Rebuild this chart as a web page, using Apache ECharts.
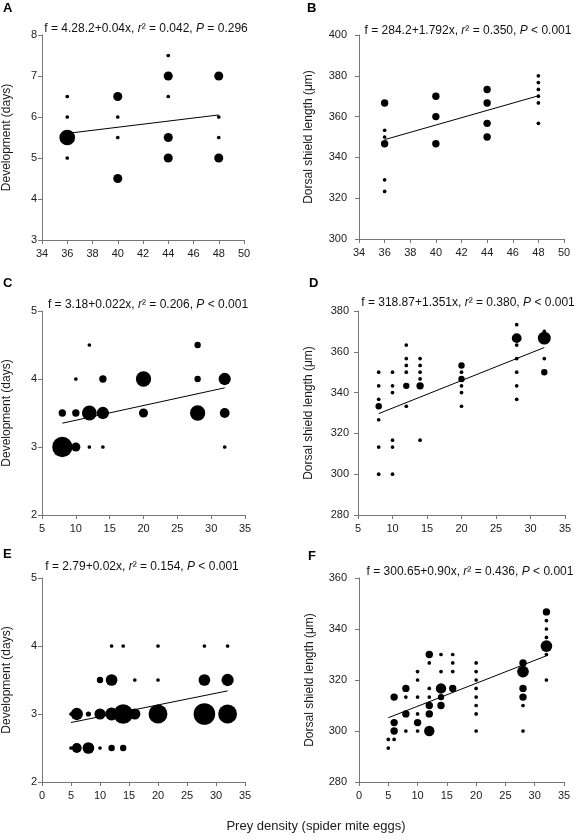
<!DOCTYPE html>
<html><head><meta charset="utf-8">
<script src="https://cdn.jsdelivr.net/npm/echarts@6/dist/echarts.min.js"></script>
<style>html,body{margin:0;padding:0;background:#fff}#c{width:576px;height:839px}</style>
</head><body><div id="c"></div>
<script>
// ---- data: [x, y, n (number of observations at that point)] ----
const pointsA = [
  [36,6.5,1],[36,6,1],[36,5.5,18],[36,5,1],
  [40,6.5,6],[40,6,1],[40,5.5,1],[40,4.5,6],
  [44,7.5,1],[44,7,6],[44,6.5,1],[44,5.5,6],[44,5,6],
  [48,7,6],[48,6,1],[48,5.5,1],[48,5,6]
];
const pointsB = [
  [36,366.7,4],[36,353.3,1],[36,350,1],[36,346.7,4],[36,329,1],[36,323.3,1],
  [40,370,4],[40,360,4],[40,346.7,4],
  [44,373.3,4],[44,366.7,4],[44,356.7,4],[44,350,4],
  [48,380,1],[48,376.7,1],[48,373.3,1],[48,370,1],[48,366.7,1],[48,356.7,1]
];
const pointsC = [
  [12,4.5,1],[28,4.5,3],
  [10,4,1],[14,4,4],[20,4,17],[28,4,3],[32,4,11],
  [8,3.5,4],[10,3.5,4],[12,3.5,16],[14,3.5,11],[20,3.5,6],[28,3.5,17],[32,3.5,7],
  [8,3,30],[10,3,6],[12,3,1],[14,3,1],[32,3,1]
];
const pointsD = [
  [8,350,1],[8,343.3,1],[8,336.7,1],[8,333.3,3],[8,326.7,1],[8,313.3,1],[8,300,1],
  [10,350,1],[10,343.3,1],[10,340,1],[10,316.7,1],[10,313.3,1],[10,300,1],
  [12,363.3,1],[12,356.7,1],[12,353.3,1],[12,350,1],[12,343.3,3],[12,333.3,1],
  [14,356.7,1],[14,353.3,1],[14,350,1],[14,346.7,1],[14,343.3,4],[14,316.7,1],
  [20,353.3,3],[20,350,1],[20,346.7,3],[20,343.3,1],[20,340,1],[20,333.3,1],
  [28,373.3,1],[28,366.7,7],[28,363.3,1],[28,356.7,1],[28,350,1],[28,343.3,1],[28,336.7,1],
  [32,370,1],[32,366.7,12],[32,356.7,1],[32,350,3]
];
const pointsE = [
  [12,4,1],[14,4,1],[20,4,1],[28,4,1],[32,4,1],
  [10,3.5,3],[12,3.5,10],[16,3.5,1],[20,3.5,1],[28,3.5,10],[32,3.5,11],
  [5,3,1],[6,3,11],[8,3,2],[10,3,9],[12,3,12],[14,3,28],[16,3,9],[20,3,26],[28,3,34],[32,3,26],
  [5,2.5,1],[6,2.5,7],[8,2.5,10],[10,2.5,1],[12,2.5,3],[14,2.5,3]
];
const pointsF = [
  [5,296.7,1],[5,293.3,1],
  [6,313.3,4],[6,303.3,4],[6,300,4],[6,296.7,1],
  [8,316.7,4],[8,313.3,1],[8,306.7,4],[8,300,1],
  [10,323.3,1],[10,320,1],[10,313.3,1],[10,306.7,1],[10,303.3,4],[10,300,1],
  [12,330,4],[12,326.7,1],[12,316.7,1],[12,313.3,1],[12,310,4],[12,306.7,4],[12,300,8],
  [14,330,1],[14,323.3,1],[14,316.7,8],[14,313.3,3],[14,310,4],
  [16,330,1],[16,326.7,1],[16,323.3,1],[16,316.7,4],
  [20,326.7,1],[20,323.3,1],[20,320,1],[20,316.7,1],[20,313.3,1],[20,310,1],[20,306.7,1],[20,300,1],
  [28,326.7,4],[28,323.3,10],[28,316.7,4],[28,313.3,4],[28,310,1],[28,300,1],
  [32,346.7,4],[32,343.3,1],[32,340,1],[32,336.7,1],[32,333.3,10],[32,330,1],[32,320,1]
];
// regression lines (end points)
const lineA = [[36,5.6],[48,6.05]];
const lineB = [[36,348.7],[48,370.2]];
const lineC = [[8,3.35],[32,3.87]];
const lineD = [[8,329.7],[32,362.1]];
const lineE = [[5,2.875],[32,3.34]];
const lineF = [[5,305.2],[32,329.5]];
// regression texts: [equation, r², P part]
const eqA = ['f = 4.28.2+0.04x', '0.042', '= 0.296'];
const eqB = ['f = 284.2+1.792x', '0.350', '< 0.001'];
const eqC = ['f = 3.18+0.022x', '0.206', '< 0.001'];
const eqD = ['f = 318.87+1.351x', '0.380', '< 0.001'];
const eqE = ['f = 2.79+0.02x', '0.154', '< 0.001'];
const eqF = ['f = 300.65+0.90x', '0.436', '< 0.001'];
// axes: [min, max, interval]
const xAxisAB = [34, 50, 2];
const xAxisCD = [5, 35, 5];
const xAxisEF = [0, 35, 5];
const yAxisA = [3, 8, 1];
const yAxisB = [300, 400, 20];
const yAxisC = [2, 5, 1];
const yAxisD = [280, 380, 20];
const yAxisE = [2, 5, 1];
const yAxisF = [280, 360, 20];
const nameDev = 'Development (days)';
const nameDorsal = 'Dorsal shield length (μm)';
const xTitle = 'Prey density (spider mite eggs)';
const letters = ['A','B','C','D','E','F'];

// ---- layout ----
const FONT = "'Liberation Sans', Arial, sans-serif";
const panels = [
  {pts:pointsA, line:lineA, eq:eqA, x:xAxisAB, y:yAxisA, name:nameDev,
   grid:{left:40,top:35,width:204,height:205}, gap:29, lm:5, tp:[146,29], lp:[3,2]},
  {pts:pointsB, line:lineB, eq:eqB, x:xAxisAB, y:yAxisB, name:nameDorsal,
   grid:{left:359,top:35,width:205,height:204}, gap:44, lm:12, tp:[468,31], lp:[307,2]},
  {pts:pointsC, line:lineC, eq:eqC, x:xAxisCD, y:yAxisC, name:nameDev,
   grid:{left:41,top:311,width:204,height:204}, gap:29, lm:5, tp:[148,305], lp:[3,277]},
  {pts:pointsD, line:lineD, eq:eqD, x:xAxisCD, y:yAxisD, name:nameDorsal,
   grid:{left:358,top:311,width:207,height:204}, gap:43, lm:9, tp:[468,303], lp:[309,277]},
  {pts:pointsE, line:lineE, eq:eqE, x:xAxisEF, y:yAxisE, name:nameDev,
   grid:{left:41,top:578,width:204,height:204}, gap:29, lm:5, tp:[142,567], lp:[3,548]},
  {pts:pointsF, line:lineF, eq:eqF, x:xAxisEF, y:yAxisF, name:nameDorsal,
   grid:{left:359,top:578,width:205,height:204}, gap:43, lm:12, tp:[470,572], lp:[308,550]}
];

const axisCol = '#777';
const textCol = '#1a1a1a';
const grids = [], xAxes = [], yAxes = [], series = [], graphics = [];
panels.forEach((p, i) => {
  grids.push(Object.assign({containLabel:false}, p.grid));
  xAxes.push({type:'value', gridIndex:i, min:p.x[0], max:p.x[1], interval:p.x[2],
    axisLine:{show:true, onZero:false, lineStyle:{color:axisCol, width:1}},
    axisTick:{show:true, length:4, lineStyle:{color:axisCol}},
    axisLabel:{fontSize:11, color:textCol, margin:8, fontFamily:FONT},
    splitLine:{show:false}});
  yAxes.push({type:'value', gridIndex:i, min:p.y[0], max:p.y[1], interval:p.y[2],
    name:p.name, nameLocation:'middle', nameGap:p.gap,
    nameTextStyle:{fontSize:12, color:textCol, fontFamily:FONT},
    axisLine:{show:true, onZero:false, lineStyle:{color:axisCol, width:1}},
    axisTick:{show:true, length:4, lineStyle:{color:axisCol}},
    axisLabel:{fontSize:11, color:textCol, margin:p.lm, fontFamily:FONT},
    splitLine:{show:false}});
  series.push({type:'line', xAxisIndex:i, yAxisIndex:i, data:p.line, symbol:'none',
    lineStyle:{color:'#000', width:1}, z:2, silent:true});
  series.push({type:'scatter', xAxisIndex:i, yAxisIndex:i, data:p.pts,
    symbolSize: v => 3.7*Math.sqrt(v[2]),
    itemStyle:{color:'#000', opacity:1}, z:3, silent:true});
  graphics.push({type:'text', x:p.tp[0], y:p.tp[1], style:{
    text:'{n|'+p.eq[0]+', }{i|r}{n|² = '+p.eq[1]+', }{i|P}{n| '+p.eq[2]+'}',
    rich:{n:{fontSize:12, fontFamily:FONT, fill:'#111'}, i:{fontSize:12, fontStyle:'italic', fontFamily:FONT, fill:'#111'}},
    align:'center', verticalAlign:'middle'}});
  graphics.push({type:'text', x:p.lp[0], y:p.lp[1], style:{
    text:letters[i], font:'bold 13px '+FONT, fill:'#000', align:'left', verticalAlign:'top'}});
});
graphics.push({type:'text', x:316, y:826, style:{text:xTitle, font:'13px '+FONT, fill:textCol, align:'center', verticalAlign:'middle'}});

const chart = echarts.init(document.getElementById('c'), null, {renderer:'canvas'});
chart.setOption({
  animation:false, backgroundColor:'#fff',
  grid:grids, xAxis:xAxes, yAxis:yAxes, series:series, graphic:graphics
});
</script></body></html>
